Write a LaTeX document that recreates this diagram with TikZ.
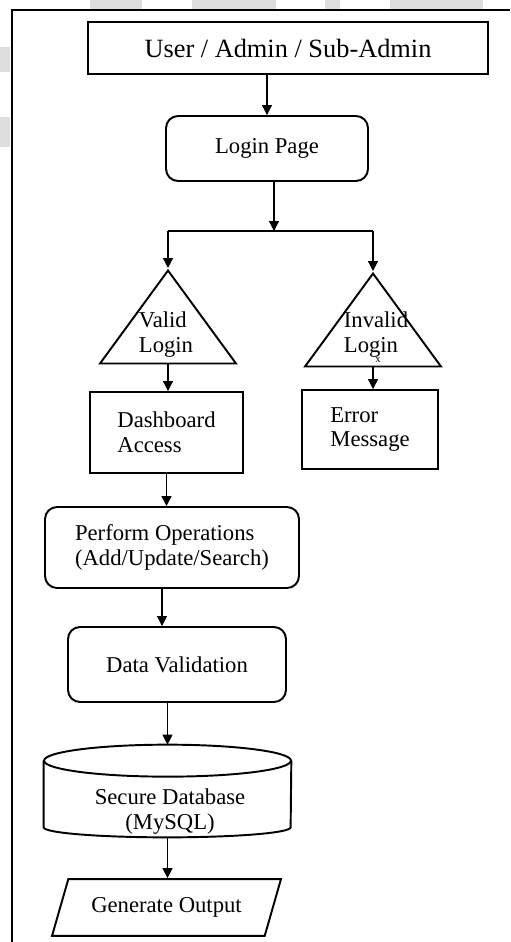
\documentclass[tikz,border=0pt]{standalone}
\usepackage{fontspec}
\setmainfont{Liberation Serif}
\usetikzlibrary{arrows.meta,shapes.geometric}
\definecolor{flowline}{RGB}{0,0,0}
\definecolor{scanshade}{RGB}{222,222,222}

\begin{document}
\begin{tikzpicture}[x=0.02cm, y=-0.02cm,
        every node/.style={font=\fontsize{12.9}{14.2}\selectfont},
        flowbox/.style={draw=flowline, line width=1.1pt, inner sep=0pt},
        roundbox/.style={flowbox, rounded corners=0.24cm},
        decision/.style={flowbox, isosceles triangle, shape border rotate=90, isosceles triangle stretches},
        flow/.style={-{Triangle[length=0.2cm, width=0.2cm]}, draw=flowline, line width=0.7pt}]
        \useasboundingbox (0,0) rectangle (510,942);
        % Scan shading along the page edges
        \fill[scanshade] (90,0) rectangle (142,9);
        \fill[scanshade] (192,0) rectangle (276,9);
        \fill[scanshade] (325,0) rectangle (340,9);
        \fill[scanshade] (390,0) rectangle (483,9);
        \fill[scanshade] (0,47) rectangle (10,72);
        \fill[scanshade] (0,117) rectangle (10,147);
        % Outer frame
        \draw[draw=flowline, line width=0.9pt] (510,10) -- (12,10) -- (12,942);
        % Actors and login
        \node[flowbox, minimum width=8cm, minimum height=1.04cm, font=\fontsize{15}{17}\selectfont] (actors) at (288,48) {User / Admin / Sub-Admin};
        \node[roundbox, minimum width=4.04cm, minimum height=1.3cm] (login) at (267,148.5) {Login Page};
        \coordinate (split) at (274,231);
        % Login decisions
        \node[decision, minimum width=2.72cm, minimum height=1.86cm, anchor=apex] (valid) at (168,268) {};
        \node[decision, minimum width=2.72cm, minimum height=1.86cm, anchor=apex] (invalid) at (373,271) {};
        \node[align=left] (validtxt) at (166,335) {Valid\\Login};
        \node[align=left] (invalidtxt) at (376,335) {Invalid\\Login};
        \node[font=\fontsize{6}{6}\selectfont, inner sep=0pt] (stray) at (378,360) {x};
        % Outcomes
        \node[flowbox, minimum width=3.06cm, minimum height=1.62cm, align=left] (dash) at (166.5,432.5) {Dashboard\\Access};
        \node[flowbox, minimum width=2.72cm, minimum height=1.58cm, align=left] (error) at (370,429.5) {Error\\Message};
        % Main path
        \node[roundbox, minimum width=5.08cm, minimum height=1.62cm, align=left] (ops) at (172,547.5) {Perform Operations\\(Add/Update/Search)};
        \node[roundbox, minimum width=4.36cm, minimum height=1.5cm] (check) at (177,664.5) {Data Validation};
        % Database drum
        \node[minimum width=4.94cm, minimum height=1.84cm, inner sep=0pt] (db) at (167.5,791) {};
        \draw[draw=flowline, line width=1.1pt] ([yshift=-0.32cm]db.north) ellipse [x radius=2.47cm, y radius=0.32cm];
        \draw[draw=flowline, line width=1.1pt] ([yshift=-0.32cm]db.north west) -- ([yshift=0.2cm]db.south west)
            arc[start angle=180, end angle=360, x radius=2.47cm, y radius=0.2cm] -- ([yshift=-0.32cm]db.north east);
        \node[align=center] (dbtxt) at (170,812) {Secure Database\\(MySQL)};
        \node[flowbox, trapezium, trapezium left angle=74, trapezium right angle=106, trapezium stretches body, inner ysep=0.37cm, minimum width=4.58cm] (output) at (166.5,907.5) {Generate Output};
        % Connectors
        \draw[flow] (actors.south -| login.north) -- (login.north);
        \draw[flow] (login.south -| split) -- (split);
        \draw[draw=flowline, line width=0.7pt] (valid.apex |- split) -- (invalid.apex |- split);
        \draw[flow] (valid.apex |- split) -- (valid.apex);
        \draw[flow] (invalid.apex |- split) -- (invalid.apex);
        \draw[flow] (valid.lower side) -- (valid.lower side |- dash.north);
        \draw[flow] (invalid.lower side) -- (invalid.lower side |- error.north);
        \draw[flow] (dash.south) -- (dash.south |- ops.north);
        \draw[flow] ([xshift=-0.2cm]ops.south) -- ([xshift=-0.2cm]ops.south |- check.north);
        \draw[flow] (check.south -| db.north) -- (db.north);
        \draw[flow] (db.south) -- (db.south |- output.north);
    \end{tikzpicture}
\end{document}
